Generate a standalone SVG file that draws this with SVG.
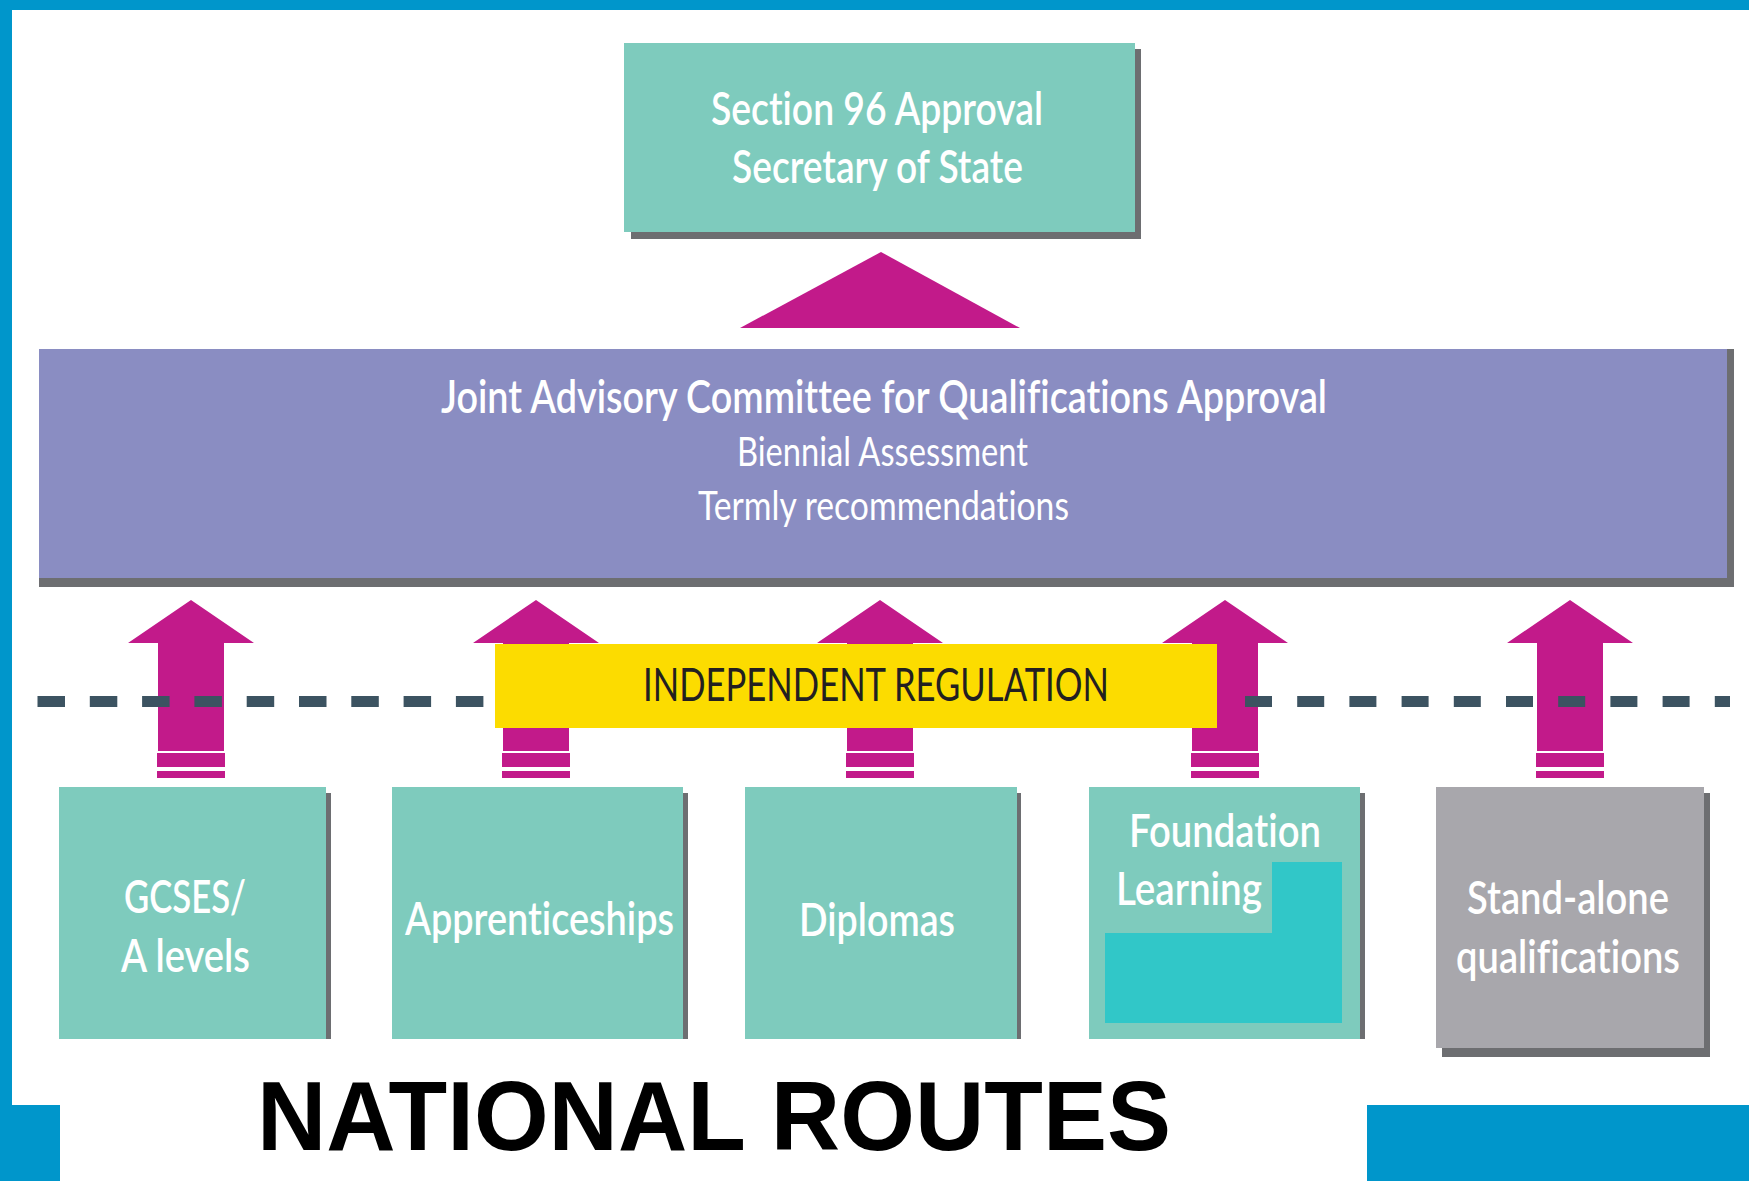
<svg xmlns="http://www.w3.org/2000/svg" width="1749" height="1181" viewBox="0 0 1749 1181">
<defs>
<style>
.lbl{font-family:Lato,"Open Sans","Noto Sans","Liberation Sans",sans-serif;fill:#ffffff;text-anchor:middle;font-weight:600;font-variant-ligatures:none;font-feature-settings:"liga" 0,"clig" 0,"dlig" 0,"calt" 0;letter-spacing:0.01px;}
.lt{font-weight:400;}
.teal{fill:#7ecbbd;}
.shadow{fill:#6d6e71;}
.mag{fill:#c21a8a;}
.blue{fill:#0096cb;}
.dash{stroke:#3c5361;stroke-width:11;fill:none;}
</style>
</defs>
<rect x="0" y="0" width="1749" height="1181" fill="#ffffff"/>
<!-- frame -->
<rect class="blue" x="0" y="0" width="1749" height="10"/>
<rect class="blue" x="0" y="0" width="12" height="1181"/>

<!-- top node -->
<g id="node-section96">
<rect class="shadow" x="631" y="49" width="510" height="190"/>
<rect class="teal" x="624" y="43" width="511" height="189"/>
<text class="lbl" x="877" y="125" font-size="46" textLength="332" lengthAdjust="spacingAndGlyphs">Section 96 Approval</text>
<text class="lbl" x="877.5" y="183" font-size="46" textLength="291" lengthAdjust="spacingAndGlyphs">Secretary of State</text>
</g>

<!-- JACQA node -->
<g id="node-jacqa">
<rect class="shadow" x="39" y="349" width="1695" height="238"/>
<rect x="39" y="349" width="1688" height="229" fill="#8a8dc2"/>
<text class="lbl" x="884" y="413" font-size="46" textLength="886" lengthAdjust="spacingAndGlyphs">Joint Advisory Committee for Qualifications Approval</text>
<text class="lbl lt" x="882.5" y="466" font-size="41" textLength="291" lengthAdjust="spacingAndGlyphs">Biennial Assessment</text>
<text class="lbl lt" x="883.5" y="520" font-size="41" textLength="371" lengthAdjust="spacingAndGlyphs">Termly recommendations</text>
</g>

<!-- connectors -->
<g id="connectors">
<polygon class="mag" points="881,252 1020,328 740,328"/>
<g id="arrow-1" transform="translate(191,0)">
<polygon class="mag" points="0,600 63,643 33,643 33,751 -33,751 -33,643 -63,643"/>
<rect class="mag" x="-34" y="753" width="68" height="14"/>
<rect class="mag" x="-34" y="771" width="68" height="7"/>
</g>
<g id="arrow-2" transform="translate(536,0)">
<polygon class="mag" points="0,600 63,643 33,643 33,751 -33,751 -33,643 -63,643"/>
<rect class="mag" x="-34" y="753" width="68" height="14"/>
<rect class="mag" x="-34" y="771" width="68" height="7"/>
</g>
<g id="arrow-3" transform="translate(880,0)">
<polygon class="mag" points="0,600 63,643 33,643 33,751 -33,751 -33,643 -63,643"/>
<rect class="mag" x="-34" y="753" width="68" height="14"/>
<rect class="mag" x="-34" y="771" width="68" height="7"/>
</g>
<g id="arrow-4" transform="translate(1225,0)">
<polygon class="mag" points="0,600 63,643 33,643 33,751 -33,751 -33,643 -63,643"/>
<rect class="mag" x="-34" y="753" width="68" height="14"/>
<rect class="mag" x="-34" y="771" width="68" height="7"/>
</g>
<g id="arrow-5" transform="translate(1570,0)">
<polygon class="mag" points="0,600 63,643 33,643 33,751 -33,751 -33,643 -63,643"/>
<rect class="mag" x="-34" y="753" width="68" height="14"/>
<rect class="mag" x="-34" y="771" width="68" height="7"/>
</g>
<line class="dash" x1="37.5" y1="701.5" x2="495" y2="701.5" stroke-dasharray="27.5 24.8"/>
<line class="dash" x1="1245" y1="701.5" x2="1730" y2="701.5" stroke-dasharray="27 25.2"/>
</g>

<!-- independent regulation -->
<g id="node-regulation">
<rect x="495" y="644" width="722" height="84" fill="#fcdc00"/>
<text x="876" y="701" font-size="46" fill="#231f20" text-anchor="middle" font-family="Lato, Open Sans, Liberation Sans, sans-serif" textLength="466" lengthAdjust="spacingAndGlyphs">INDEPENDENT REGULATION</text>
</g>

<!-- bottom nodes -->
<g id="node-gcses">
<rect class="shadow" x="64" y="793" width="267" height="246"/>
<rect class="teal" x="59" y="787" width="267" height="252"/>
<text class="lbl" x="185" y="913" font-size="46" textLength="122" lengthAdjust="spacingAndGlyphs">GCSES/</text>
<text class="lbl" x="185.5" y="972" font-size="46" textLength="129" lengthAdjust="spacingAndGlyphs">A levels</text>
</g>
<g id="node-apprenticeships">
<rect class="shadow" x="397" y="793" width="291" height="246"/>
<rect class="teal" x="392" y="787" width="291" height="252"/>
<text class="lbl" x="539.5" y="935" font-size="46" textLength="269" lengthAdjust="spacingAndGlyphs">Apprenticeships</text>
</g>
<g id="node-diplomas">
<rect class="shadow" x="750" y="793" width="271" height="246"/>
<rect class="teal" x="745" y="787" width="272" height="252"/>
<text class="lbl" x="877" y="936" font-size="46" textLength="156" lengthAdjust="spacingAndGlyphs">Diplomas</text>
</g>
<g id="node-foundation">
<rect class="shadow" x="1094" y="793" width="271" height="246"/>
<rect class="teal" x="1089" y="787" width="271" height="252"/>
<text class="lbl" x="1225" y="847" font-size="46" textLength="192" lengthAdjust="spacingAndGlyphs">Foundation</text>
<text class="lbl" x="1116" y="905" font-size="46" style="text-anchor:start" textLength="146" lengthAdjust="spacingAndGlyphs">Learning</text>
<rect x="1272" y="862" width="70" height="72" fill="#31c7c8"/>
<rect x="1105" y="933" width="237" height="90" fill="#31c7c8"/>
</g>
<g id="node-standalone">
<rect class="shadow" x="1442" y="793" width="268" height="264"/>
<rect x="1436" y="787" width="268" height="261" fill="#a8a7ac"/>
<text class="lbl" x="1568" y="914" font-size="46" textLength="202" lengthAdjust="spacingAndGlyphs">Stand-alone</text>
<text class="lbl" x="1568" y="973" font-size="46" textLength="224" lengthAdjust="spacingAndGlyphs">qualifications</text>
</g>

<!-- bottom title panel -->
<rect x="60" y="1039" width="1307" height="142" fill="#ffffff"/>
<rect class="blue" x="0" y="1105" width="60" height="76"/>
<rect class="blue" x="1367" y="1105" width="382" height="76"/>
<text x="257" y="1150" font-size="98" font-weight="bold" fill="#000000" font-family="Liberation Sans, Arial, sans-serif" textLength="914" lengthAdjust="spacingAndGlyphs">NATIONAL ROUTES</text>
</svg>
